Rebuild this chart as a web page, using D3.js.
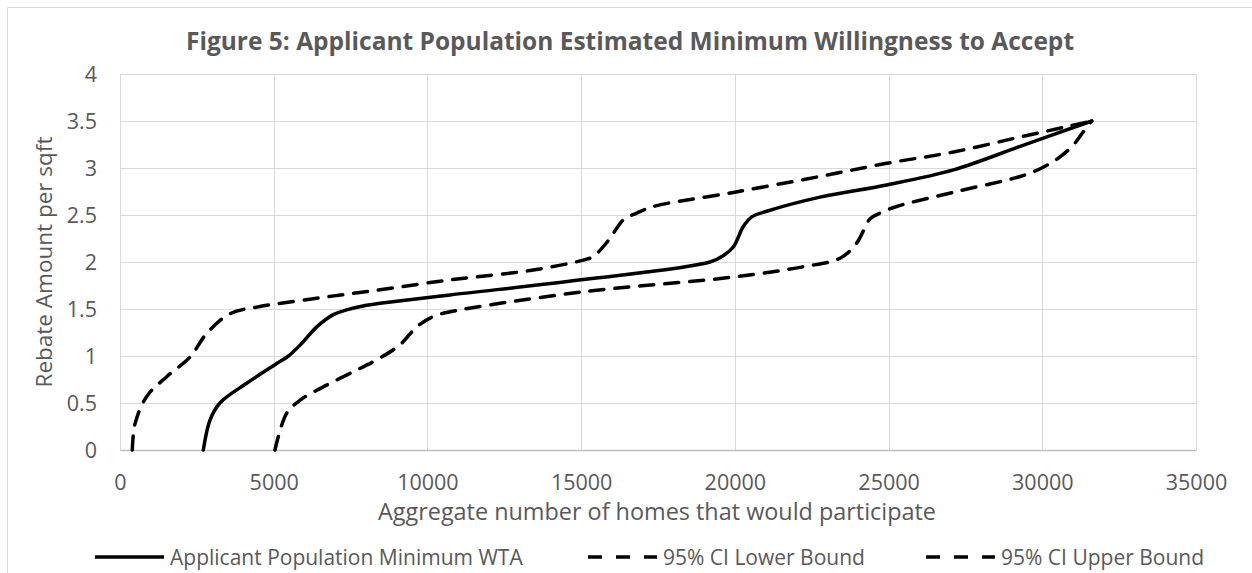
<!DOCTYPE html>
<html>
<head>
<meta charset="utf-8">
<script src="https://cdn.jsdelivr.net/npm/d3@7"></script>
<style>
  html, body { margin: 0; padding: 0; background: #fff; }
  svg text { font-family: "Open Sans", "Noto Sans", sans-serif; fill: #595959; }
</style>
</head>
<body>
<svg id="chart" width="1252" height="573"></svg>
<script>
// Aggregate homes (x) and rebate per sqft (y) for each series
const wtaHomes  = [2710, 2930, 3250, 4120, 5100, 5480, 5900, 6400, 6940, 7370, 8020, 8460, 10740, 15000, 19190, 19630, 19950, 20280, 20550, 21040, 22770, 24940, 27110, 29280, 31610];
const wtaRebate = [0, 0.32, 0.5, 0.71, 0.92, 1.0, 1.13, 1.31, 1.44, 1.49, 1.54, 1.56, 1.65, 1.81, 2.0, 2.07, 2.16, 2.38, 2.48, 2.54, 2.69, 2.82, 2.98, 3.23, 3.5];

const lowerHomes  = [400, 490, 870, 1520, 2280, 2820, 3580, 4450, 6290, 8130, 10740, 13340, 15070, 15400, 15890, 16380, 16810, 17350, 19950, 22770, 24940, 27110, 29280, 30800, 31610];
const lowerRebate = [0, 0.28, 0.57, 0.78, 0.99, 1.24, 1.45, 1.52, 1.61, 1.69, 1.81, 1.91, 2.02, 2.06, 2.23, 2.45, 2.52, 2.59, 2.74, 2.91, 3.05, 3.17, 3.33, 3.44, 3.5];

const upperHomes  = [5040, 5420, 5860, 6720, 7700, 8350, 9110, 9650, 10190, 10740, 14990, 19950, 22230, 23420, 23960, 24400, 24720, 25260, 27210, 29280, 29980, 30500, 31000, 31300, 31610];
const upperRebate = [0, 0.39, 0.53, 0.69, 0.85, 0.96, 1.12, 1.31, 1.42, 1.47, 1.68, 1.84, 1.95, 2.04, 2.2, 2.46, 2.52, 2.59, 2.75, 2.91, 3.0, 3.1, 3.24, 3.37, 3.5];

const xTicks = [0, 5000, 10000, 15000, 20000, 25000, 30000, 35000];
const yTicks = [0, 0.5, 1, 1.5, 2, 2.5, 3, 3.5, 4];
const yTickLabels = ["0", "0.5", "1", "1.5", "2", "2.5", "3", "3.5", "4"];

const seriesNames = ["Applicant Population Minimum WTA", "95% CI Lower Bound", "95% CI Upper Bound"];

const titleText = "Figure 5: Applicant Population Estimated Minimum Willingness to Accept";
const xTitle = "Aggregate number of homes that would participate";
const yTitle = "Rebate Amount per sqft";

const svg = d3.select("#chart");
const W = 1252, H = 573;
const plot = { left: 120, right: 1196, top: 74, bottom: 450 };

// outer chart frame
svg.append("rect")
  .attr("x", 7.5).attr("y", 7.5)
  .attr("width", W + 20).attr("height", H + 20)
  .attr("fill", "#fff").attr("stroke", "#d9d9d9").attr("stroke-width", 1);

const x = d3.scaleLinear().domain([0, 35000]).range([plot.left, plot.right]);
const y = d3.scaleLinear().domain([0, 4]).range([plot.bottom, plot.top]);

// gridlines
const grid = svg.append("g");
grid.selectAll("line.h").data(yTicks).join("line")
  .attr("x1", plot.left).attr("x2", plot.right)
  .attr("y1", d => Math.round(y(d)) + 0.5).attr("y2", d => Math.round(y(d)) + 0.5)
  .attr("stroke", "#d9d9d9").attr("stroke-width", 1);
grid.selectAll("line.v").data(xTicks).join("line")
  .attr("y1", plot.top).attr("y2", plot.bottom)
  .attr("x1", d => Math.round(x(d)) + 0.5).attr("x2", d => Math.round(x(d)) + 0.5)
  .attr("stroke", "#d9d9d9").attr("stroke-width", 1);

// axes (labels only, Excel-style)
const xAxis = d3.axisBottom(x).tickValues(xTicks).tickFormat(d3.format("d")).tickSize(0).tickPadding(0);
const gx = svg.append("g").attr("transform", `translate(0,${plot.bottom})`).call(xAxis);
gx.select(".domain").attr("stroke", "#bfbfbf").attr("stroke-width", 1.5);
gx.selectAll("text").attr("dy", null).attr("y", 40).style("font-size", "21.5px");

const yAxis = d3.axisLeft(y).tickValues(yTicks).tickFormat((d, i) => yTickLabels[i]).tickSize(0).tickPadding(0);
const gy = svg.append("g").attr("transform", `translate(${plot.left},0)`).call(yAxis);
gy.select(".domain").remove();
gy.selectAll("text").attr("x", -23).attr("dy", "0.34em").style("font-size", "21.5px");

// series lines
const line = d3.line().x(d => x(d[0])).y(d => y(d[1])).curve(d3.curveCatmullRom.alpha(0.5));
const zip = (a, b) => a.map((v, i) => [v, b[i]]);
const series = [
  { name: seriesNames[0], pts: zip(wtaHomes, wtaRebate), dash: null },
  { name: seriesNames[1], pts: zip(lowerHomes, lowerRebate), dash: "14,11" },
  { name: seriesNames[2], pts: zip(upperHomes, upperRebate), dash: "14,11" }
];
svg.append("g").selectAll("path").data(series).join("path")
  .attr("d", d => line(d.pts))
  .attr("fill", "none").attr("stroke", "#000").attr("stroke-width", 3.5)
  .attr("stroke-linecap", "round")
  .attr("stroke-dasharray", d => d.dash);

// title and axis titles
svg.append("text").attr("x", 630).attr("y", 50).attr("text-anchor", "middle")
  .style("font-size", "24.5px").style("font-weight", "bold").text(titleText);
svg.append("text").attr("x", 657).attr("y", 520).attr("text-anchor", "middle")
  .style("font-size", "23.4px").text(xTitle);
svg.append("text").attr("transform", `translate(52,${(plot.top + plot.bottom) / 2}) rotate(-90)`)
  .attr("text-anchor", "middle").style("font-size", "22.5px").text(yTitle);

// legend
const legendX = [95, 588, 926];
const lg = svg.append("g").selectAll("g").data(series).join("g")
  .attr("transform", (d, i) => `translate(${legendX[i]},557)`);
lg.append("line").attr("x1", 0).attr("x2", 69).attr("y1", 0).attr("y2", 0)
  .attr("stroke", "#000").attr("stroke-width", 3.5)
  .attr("stroke-dasharray", d => d.dash ? "14,14" : null);
lg.append("text").attr("x", 75).attr("y", 8).style("font-size", "21px").text(d => d.name);
</script>
</body>
</html>
